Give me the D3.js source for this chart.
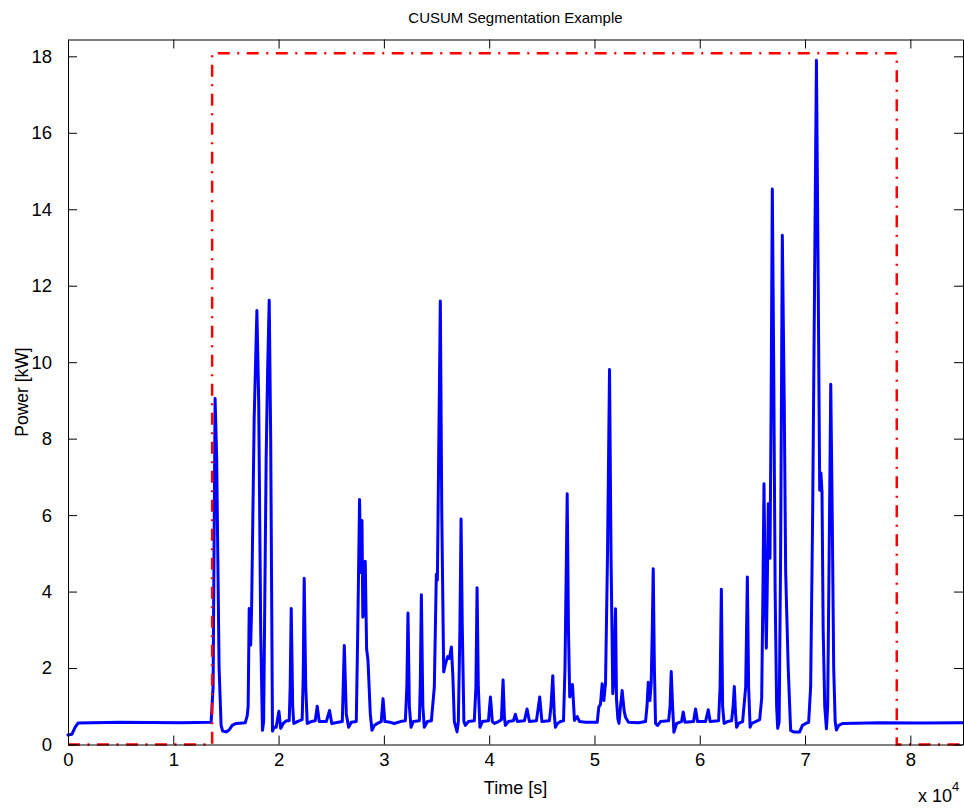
<!DOCTYPE html>
<html>
<head>
<meta charset="utf-8">
<script src="https://cdn.jsdelivr.net/npm/d3@7"></script>
<style>
  body { margin: 0; background: #fff; }
  svg text { font-family: "Liberation Sans", Arial, Helvetica, sans-serif; fill: #000; }
</style>
</head>
<body>
<svg id="chart" width="964" height="808"></svg>
<script>
// power signal, time in seconds, power in kW
var timeS = [0, 380, 670, 950, 4940, 10650, 13590, 13780, 13970, 14120, 14350, 14540, 14690,
  15020, 15300, 15590, 15970, 16830, 17020, 17110, 17210, 17350, 17440, 17680, 17940, 18110,
  18300, 18470, 18580, 18820, 18960, 19110, 19250, 19420, 19580, 19770, 20030, 20200, 20440,
  20720, 21010, 21100, 21200, 21340, 21440, 21770, 22240, 22340, 22430, 22580, 22720, 23100,
  23480, 23670, 23860, 24530, 24840, 25050, 25670, 26050, 26240, 26430, 26650, 26900, 27380,
  27520, 27690, 27810, 27920, 28000, 28140, 28230, 28360, 28490, 28710, 28870, 29090, 29370,
  29750, 29920, 30090, 30610, 30990, 31560, 32040, 32180, 32290, 32420, 32580, 32800, 33370,
  33460, 33560, 33700, 33840, 34130, 34510, 34790, 34980, 35080, 35360, 35500, 35680, 35840,
  36060, 36220, 36410, 36550, 36690, 36950, 37070, 37220, 37330, 37450, 37600, 37740, 38020,
  38590, 38740, 38850, 38970, 39120, 39350, 39930, 40120, 40300, 40500, 40880, 41160, 41320,
  41450, 41540, 41830, 42300, 42490, 42680, 43350, 43600, 43820, 44490, 44800, 45010, 45720,
  45870, 46040, 46180, 46290, 46480, 46770, 47060, 47200, 47410, 47530, 47650, 47770, 47910,
  48100, 48360, 48580, 49150, 50260, 50410, 50570, 50730, 50890, 51050, 51240, 51430, 51570,
  51740, 51860, 52000, 52090, 52220, 52330, 52470, 52630, 52810, 52950, 53230, 54180, 54850,
  54990, 55110, 55260, 55390, 55490, 55580, 55690, 55800, 55990, 56280, 57040, 57180, 57290,
  57420, 57540, 57800, 58270, 58430, 58600, 59410, 59600, 59790, 60550, 60810, 60980, 61790,
  61930, 62050, 62170, 62310, 62640, 63020, 63170, 63280, 63400, 63500, 63690, 64070, 64360,
  64520, 64640, 64780, 64930, 65310, 65690, 65880, 66000, 66100, 66210, 66320, 66430, 66510,
  66670, 66780, 66890, 67020, 67160, 67300, 67400, 67540, 67680, 67840, 68020, 68160, 68250,
  68400, 68630, 68920, 69490, 69750, 70060, 70340, 70530, 70720, 71080, 71250, 71390, 71510,
  71610, 71720, 71870, 72030, 72150, 72290, 72440, 72580, 72720, 72860, 72980, 73200, 73550,
  77190, 80990, 85000];

var powerKW = [0.25, 0.27, 0.45, 0.56, 0.58, 0.57, 0.58, 1.5, 9.05, 7.5, 2.0, 0.5, 0.35,
  0.33, 0.38, 0.5, 0.55, 0.57, 0.75, 1.0, 3.56, 2.6, 3.6, 8.5, 11.35, 9.0,
  3.0, 0.37, 0.6, 7.5, 9.8, 11.62, 8.0, 0.35, 0.45, 0.45, 0.87, 0.42, 0.55,
  0.62, 0.62, 1.5, 3.56, 1.0, 0.55, 0.6, 0.65, 1.8, 4.35, 1.5, 0.55, 0.6,
  0.62, 1.0, 0.6, 0.6, 0.89, 0.55, 0.58, 0.6, 2.59, 0.8, 0.45, 0.58, 0.6,
  3.0, 6.41, 4.5, 5.86, 3.33, 3.5, 4.79, 2.5, 2.2, 0.8, 0.37, 0.5, 0.55,
  0.6, 1.2, 0.6, 0.58, 0.55, 0.6, 0.62, 1.5, 3.44, 1.0, 0.45, 0.6, 0.62,
  1.6, 3.92, 1.0, 0.45, 0.6, 0.62, 1.5, 4.45, 4.3, 11.6, 6.0, 1.9, 2.1,
  2.3, 2.25, 2.55, 1.8, 0.6, 0.33, 0.6, 3.0, 5.9, 3.0, 0.6, 0.5, 0.6,
  0.62, 1.5, 4.1, 1.5, 0.45, 0.6, 0.62, 1.24, 0.6, 0.55, 0.6, 0.65, 1.69,
  0.7, 0.5, 0.6, 0.62, 0.79, 0.6, 0.62, 0.93, 0.6, 0.62, 1.24, 0.6, 0.62,
  1.0, 1.8, 0.8, 0.45, 0.55, 0.6, 0.62, 2.0, 6.56, 3.0, 1.24, 1.3, 1.57,
  0.63, 0.73, 0.6, 0.58, 0.58, 0.98, 1.05, 1.59, 1.15, 1.6, 5.0, 9.81, 5.0,
  1.33, 1.8, 3.55, 1.2, 0.67, 0.55, 1.0, 1.41, 0.9, 0.71, 0.58, 0.57, 0.6,
  1.0, 1.63, 1.15, 1.63, 3.0, 4.6, 2.0, 0.55, 0.5, 0.6, 0.62, 1.0, 1.91,
  1.0, 0.32, 0.55, 0.6, 0.85, 0.58, 0.6, 0.93, 0.6, 0.6, 0.91, 0.6, 0.62,
  1.5, 4.06, 1.0, 0.55, 0.6, 0.62, 1.0, 1.52, 0.8, 0.45, 0.55, 0.6, 1.5,
  4.38, 1.5, 0.45, 0.55, 0.6, 0.65, 1.2, 4.0, 6.82, 4.0, 2.52, 4.5, 6.3,
  4.87, 9.0, 14.53, 10.0, 4.0, 1.0, 0.42, 0.6, 5.0, 13.32, 9.0, 4.5, 3.55,
  2.0, 0.37, 0.33, 0.33, 0.5, 0.55, 0.58, 1.5, 6.0, 17.9, 12.0, 6.65, 7.1,
  6.6, 3.0, 1.0, 0.41, 1.0, 5.0, 9.42, 6.0, 2.0, 0.6, 0.38, 0.5, 0.55,
  0.57, 0.56, 0.57];

// CUSUM segmentation step
var segTime = [0, 13690, 13690, 78710, 78710, 85000];
var segLevel = [0, 0, 18.08, 18.08, 0, 0];

var xTicks = [0, 10000, 20000, 30000, 40000, 50000, 60000, 70000, 80000];
var yTicks = [0, 2, 4, 6, 8, 10, 12, 14, 16, 18];

var svg = d3.select("#chart");
var margin = {top: 39.5, right: 1, left: 68, bottom: 63.5};
var width = 964 - margin.left - margin.right;
var height = 808 - margin.top - margin.bottom;

var g = svg.append("g")
    .attr("transform", "translate(" + margin.left + "," + margin.top + ")");

var x = d3.scaleLinear().domain([0, 85000]).range([0, width]);
var y = d3.scaleLinear().domain([0, 18.44]).range([height, 0]);

var power = timeS.map((t, i) => ({t: t, p: powerKW[i]}));
var seg = segTime.map((t, i) => ({t: t, p: segLevel[i]}));

var line = d3.line()
    .x(d => x(d.t))
    .y(d => y(d.p));

g.append("path")
    .datum(power)
    .attr("fill", "none")
    .attr("stroke", "#0000ff")
    .attr("stroke-width", 3)
    .attr("stroke-linejoin", "round")
    .attr("stroke-linecap", "round")
    .attr("d", line);

g.append("path")
    .datum(seg)
    .attr("fill", "none")
    .attr("stroke", "#ff0000")
    .attr("stroke-width", 2.5)
    .attr("stroke-dasharray", "12,7.5,2,7.5")
    .attr("d", line);

// axes, ticks point inwards like matlab
function styleAxis(sel) {
    sel.selectAll("path").attr("stroke", "#000").attr("stroke-width", 1);
    sel.selectAll("line").attr("stroke", "#000").attr("stroke-width", 1);
    sel.selectAll("text").style("font-size", "18.5px");
}

g.append("g")
    .attr("transform", "translate(0," + height + ")")
    .call(d3.axisBottom(x).tickValues(xTicks).tickSizeInner(-9).tickSizeOuter(0)
        .tickPadding(8).tickFormat(d => d / 10000))
    .call(styleAxis);

g.append("g")
    .call(d3.axisTop(x).tickValues(xTicks).tickSizeInner(-9).tickSizeOuter(0).tickFormat(""))
    .call(styleAxis);

g.append("g")
    .call(d3.axisLeft(y).tickValues(yTicks).tickSizeInner(-9).tickSizeOuter(0).tickPadding(16))
    .call(styleAxis);

g.append("g")
    .attr("transform", "translate(" + width + ",0)")
    .call(d3.axisRight(y).tickValues(yTicks).tickSizeInner(-9).tickSizeOuter(0).tickFormat(""))
    .call(styleAxis);

g.selectAll(".domain").attr("stroke", "#000");

// title and labels
svg.append("text")
    .attr("x", margin.left + width / 2)
    .attr("y", 23)
    .attr("text-anchor", "middle")
    .style("font-size", "15px")
    .text("CUSUM Segmentation Example");

svg.append("text")
    .attr("x", margin.left + width / 2)
    .attr("y", 794)
    .attr("text-anchor", "middle")
    .style("font-size", "18px")
    .text("Time [s]");

svg.append("text")
    .attr("transform", "translate(28," + (margin.top + height / 2) + ") rotate(-90)")
    .attr("text-anchor", "middle")
    .style("font-size", "17.5px")
    .text("Power [kW]");

var expo = svg.append("text")
    .attr("x", 918)
    .attr("y", 802)
    .style("font-size", "18px");
expo.append("tspan").text("x 10");
expo.append("tspan").attr("dy", -11).style("font-size", "13px").text("4");
</script>
</body>
</html>
